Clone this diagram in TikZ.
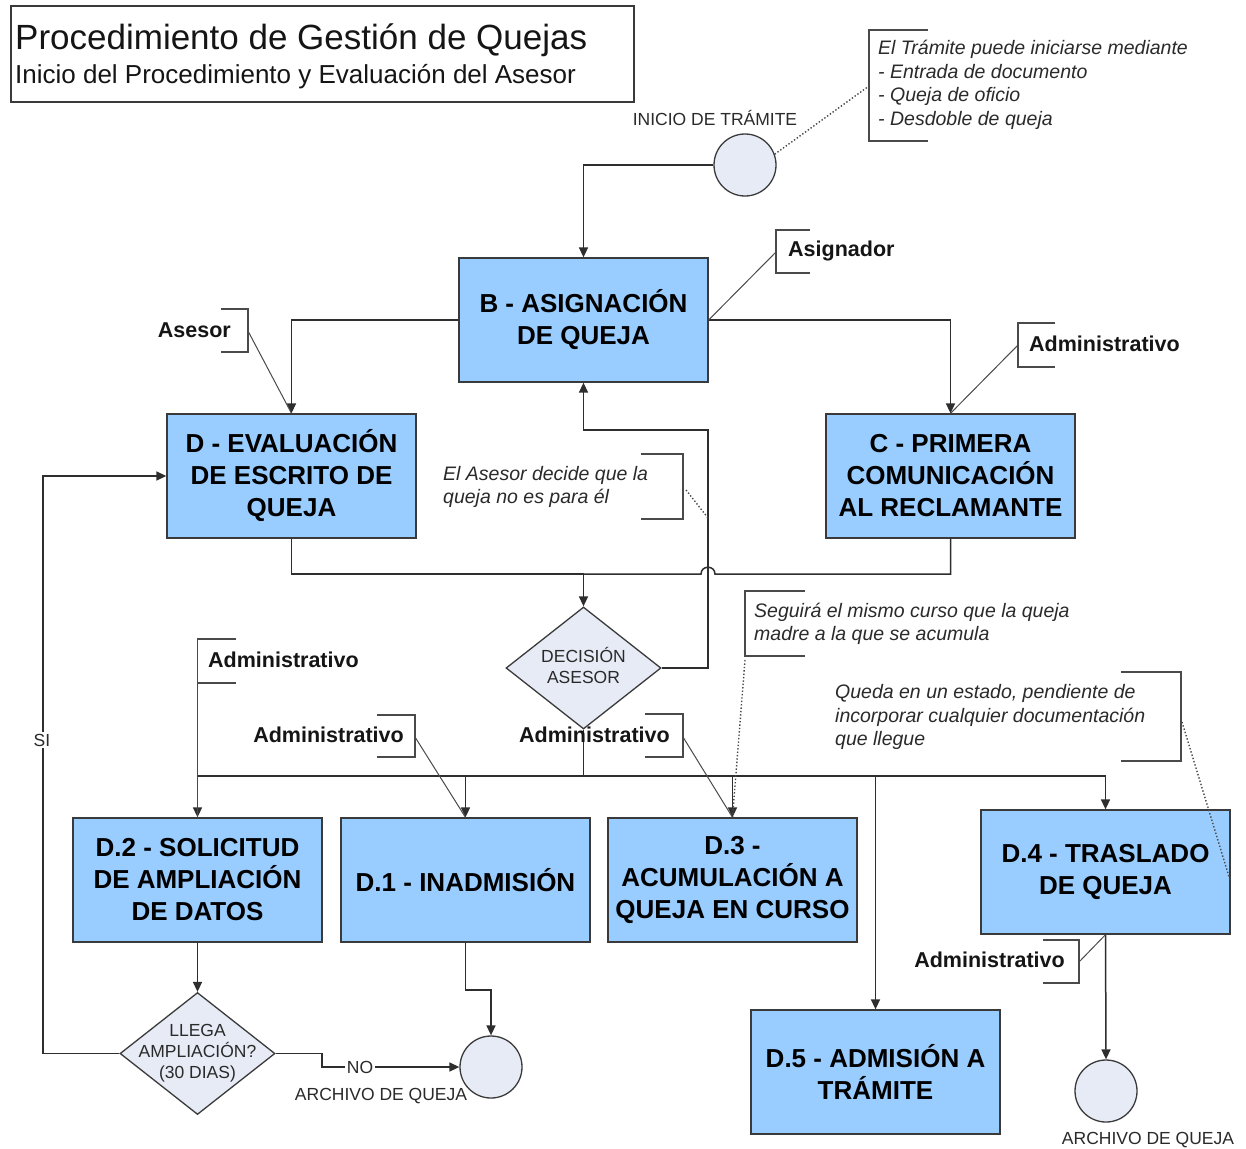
\documentclass[tikz,border=0pt]{standalone}
\usepackage{fontspec}
\setmainfont{Liberation Sans}
\usetikzlibrary{shapes.geometric,arrows.meta}
\definecolor{boxblue}{HTML}{99CCFF}
\definecolor{boxedge}{HTML}{3A3A3A}
\definecolor{termfill}{HTML}{E6EBF6}
\definecolor{lineg}{HTML}{2E2E2E}
\definecolor{brackc}{HTML}{4A4A4A}
\definecolor{textg}{HTML}{2A2A2A}
\definecolor{rolec}{HTML}{151515}
\begin{document}
\begin{tikzpicture}[x=1pt,y=-1pt,
  conn/.style={draw=lineg, line width=1.5},
  arr/.style={conn, -{Triangle[length=10pt,width=9pt]}},
  procbox/.style={rectangle, draw=boxedge, fill=boxblue, line width=1.3,
    minimum width=249, minimum height=124, inner sep=2, align=center,
    font=\fontsize{26}{32}\selectfont\bfseries},
  endpt/.style={circle, draw=boxedge, fill=termfill, line width=1.3,
    minimum size=62, inner sep=0},
  decide/.style={diamond, draw=boxedge, fill=termfill, line width=1.3,
    minimum width=155, minimum height=122, inner sep=0},
  dtext/.style={align=center, inner sep=0, font=\fontsize{17.5}{21}\selectfont, text=textg},
  role/.style={inner sep=0, font=\fontsize{21.5}{26}\selectfont\bfseries, text=rolec},
  bracket/.style={draw=brackc, line width=1.3},
  leader/.style={draw=brackc, line width=1},
  noteline/.style={draw=brackc, dotted, line width=1.4},
  note/.style={inner sep=0, align=left, font=\fontsize{19.5}{23.5}\selectfont\itshape, text=textg},
  small/.style={inner sep=0, font=\fontsize{17.5}{21}\selectfont, text=textg},
]
\useasboundingbox (0,0) rectangle (1246,1148);
\fill[white] (0,0) rectangle (1246,1148);

% title block
\draw[draw=boxedge, line width=1.3] (11,6) rectangle (634,102);
\node[anchor=base west, inner sep=0, font=\fontsize{35}{40}\selectfont, text=rolec] (title) at (15,49) {Procedimiento de Gestión de Quejas};
\node[anchor=base west, inner sep=0, font=\fontsize{26}{30}\selectfont, text=rolec] (subtitle) at (15,83) {Inicio del Procedimiento y Evaluación del Asesor};

% process boxes
\node[procbox] (B)  at (583.5,320)  {B - ASIGNACIÓN\\DE QUEJA};
\node[procbox] (D)  at (291.5,476)  {D - EVALUACIÓN\\DE ESCRITO DE\\QUEJA};
\node[procbox] (C)  at (950.5,476)  {C - PRIMERA\\COMUNICACIÓN\\AL RECLAMANTE};
\node[procbox] (D2) at (197.5,880)  {D.2 - SOLICITUD\\DE AMPLIACIÓN\\DE DATOS};
\node[procbox] (D1) at (465.5,880)  {D.1 - INADMISIÓN};
\node[procbox] (D3) at (732.5,880)  {D.3 -\\ACUMULACIÓN A\\QUEJA EN CURSO};
\node[procbox] (D4) at (1105.5,872) {D.4 - TRASLADO\\DE QUEJA};
\node[procbox] (D5) at (875.5,1072) {D.5 - ADMISIÓN A\\TRÁMITE};

% start / end points
\node[endpt] (ini)   at (745,165)  {};
\node[endpt] (arch1) at (491,1067) {};
\node[endpt] (arch2) at (1106,1091) {};
\node[small] (iniL)   at (715,118)  {INICIO DE TRÁMITE};
\node[small] (arch1L) at (381,1096) {ARCHIVO DE QUEJA};
\node[small] (arch2L) at (1148,1140) {ARCHIVO DE QUEJA};

% decisions
\node[decide, label={[dtext, yshift=3pt]center:DECISIÓN\\ASESOR}] (dec) at (583.5,668) {};
\node[decide, label={[dtext]center:LLEGA\\AMPLIACIÓN?\\(30 DIAS)}] (llega) at (197.5,1053.5) {};

% main flow
\draw[arr] (ini.west) -| (B.north);
\draw[arr] (B.west) -| (D.north);
\draw[arr] (B.east) -| (C.north);
\coordinate (join) at (583.5,574);
\draw[conn] (D.south) |- (join);
\draw[conn] (C.south) |- (715,574) .. controls (715,565) and (701,565) .. (701,574) -- (join);
\draw[arr] (join) -- (dec.north);
\draw[arr] (dec.east) -| (708,430) -| (B.south);

\coordinate (bus) at (583.5,776);
\draw[conn, line width=1.9] (dec.south) -- (bus);
\draw[arr] (bus) -| (D2.north);
\draw[arr] (bus) -| (D1.north);
\draw[arr] (bus) -| (D3.north);
\draw[arr] (bus) -| (D5.north);
\draw[arr] (bus) -| (D4.north);

\draw[arr] (D2.south) -- (llega.north);
\draw[arr] (llega.west) -| (43,476) -- (D.west);
\node[small, fill=white, inner sep=1.5] (si) at (42,740) {SI};
\draw[arr] (llega.east) -- (322,1053.5) |- (arch1.west);
\node[small, fill=white, inner sep=1.5] (no) at (360,1067) {NO};
\draw[arr] (D1.south) -- (465.5,990) -| (arch1.north);
\draw[arr] (D4.south) -- (arch2.north);

% role annotations
\draw[bracket] (810,230) -- (776,230) -- (776,273) -- (810,273);
\node[role, anchor=west] (rAsig) at (788,251) {Asignador};
\draw[leader] (776,252) -- (B.east);

\draw[bracket] (1055,323) -- (1018,323) -- (1018,367) -- (1055,367);
\node[role, anchor=west] (rC) at (1029,344) {Administrativo};
\draw[leader] (1018,345) -- (C.north);

\draw[bracket] (221,309) -- (248,309) -- (248,352) -- (221,352);
\node[role, anchor=east] (rAse) at (231,330) {Asesor};
\draw[leader] (248,331) -- (D.north);

\draw[bracket] (236,639) -- (197.5,639) -- (197.5,683) -- (236,683);
\node[role, anchor=west] (rD2) at (208,660) {Administrativo};
\draw[leader] (197.5,661) -- (D2.north);

\draw[bracket] (377,715) -- (415,715) -- (415,757) -- (377,757);
\node[role, anchor=east] (rD1) at (404,735) {Administrativo};
\draw[leader] (415,737) -- (D1.north);

\node[role, anchor=west] (rD3) at (519,735) {Administrativo};
\draw[bracket] (645,714) -- (683,714) -- (683,757) -- (645,757);
\draw[leader] (683,737) -- (D3.north);

\draw[bracket] (1043,940) -- (1079,940) -- (1079,983) -- (1043,983);
\node[role, anchor=east] (rD4) at (1065,960) {Administrativo};
\draw[leader] (1079,962) -- (D4.south);

% explanatory notes
\draw[bracket] (928,30) -- (869,30) -- (869,141) -- (928,141);
\node[note, anchor=west] (nIni) at (878,85) {El Trámite puede iniciarse mediante\\- Entrada de documento\\- Queja de oficio\\- Desdoble de queja};
\draw[noteline] (ini.20) -- (869,86);

\draw[bracket] (641,454) -- (683,454) -- (683,519) -- (641,519);
\node[note, anchor=west] (nAse) at (443,487) {El Asesor decide que la\\queja no es para él};
\draw[noteline] (686,490) -- (708,518);

\draw[bracket] (805,591) -- (745,591) -- (745,656) -- (805,656);
\node[note, anchor=west] (nAcu) at (754,624) {Seguirá el mismo curso que la queja\\madre a la que se acumula};
\draw[noteline] (745,660) -- (D3.north);

\draw[bracket] (1121,672) -- (1181,672) -- (1181,761) -- (1121,761);
\node[note, anchor=west] (nTra) at (835,717) {Queda en un estado, pendiente de\\incorporar cualquier documentación\\que llegue};
\draw[noteline] (1182,722) -- (1230,880);
\end{tikzpicture}
\end{document}
